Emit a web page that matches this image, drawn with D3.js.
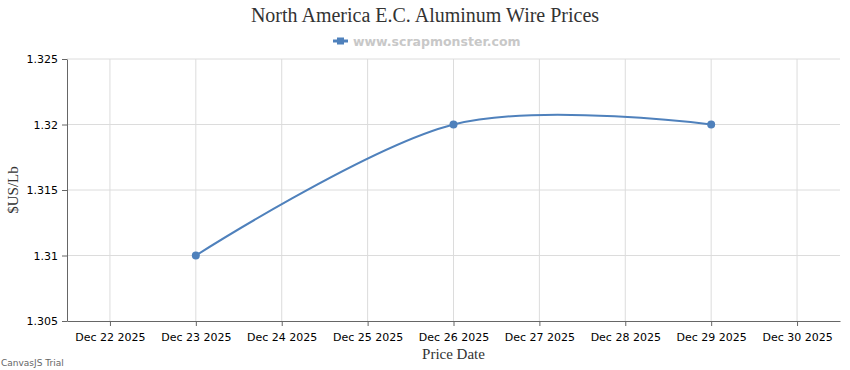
<!DOCTYPE html>
<html>

<head>
    <meta charset="UTF-8">
    <style>
        body { margin: 0; background: #fff; }
    </style>
</head>

<body>
    <svg></svg>
    <script src="https://d3js.org/d3.v7.min.js"></script>

    <script>
        const w = 850;
        const h = 370;
        const margin = { top: 59, bottom: 49, left: 67, right: 10 };

        // data
        const dates = ["2025-12-23", "2025-12-26", "2025-12-29"];
        const prices = [1.31, 1.32, 1.32];
        const tickDates = ["2025-12-22", "2025-12-23", "2025-12-24", "2025-12-25", "2025-12-26",
            "2025-12-27", "2025-12-28", "2025-12-29", "2025-12-30"];
        const yTicks = [1.305, 1.31, 1.315, 1.32, 1.325];

        const parse = d3.timeParse("%Y-%m-%d");
        const points = dates.map((d, i) => ({ date: parse(d), value: prices[i] }));

        const svg = d3.select("svg")
            .attr("width", w)
            .attr("height", h);

        const x = d3.scaleTime()
            .domain([d3.timeHour.offset(parse("2025-12-22"), -12), d3.timeHour.offset(parse("2025-12-30"), 12)])
            .range([margin.left, w - margin.right]);

        const y = d3.scaleLinear()
            .domain([1.305, 1.325])
            .range([h - margin.bottom, margin.top]);

        // gridlines
        svg.append("g")
            .selectAll("line")
            .data(yTicks.slice(1))
            .join("line")
            .attr("x1", margin.left)
            .attr("x2", w - margin.right)
            .attr("y1", d => y(d))
            .attr("y2", d => y(d))
            .attr("stroke", "#dcdcdc");

        svg.append("g")
            .selectAll("line")
            .data(tickDates.map(parse))
            .join("line")
            .attr("x1", d => x(d))
            .attr("x2", d => x(d))
            .attr("y1", margin.top)
            .attr("y2", h - margin.bottom)
            .attr("stroke", "#dcdcdc");

        // axes
        const xAxis = d3.axisBottom(x)
            .tickValues(tickDates.map(parse))
            .tickFormat(d3.timeFormat("%b %d %Y"))
            .tickSize(5)
            .tickSizeOuter(0)
            .tickPadding(5);

        const yAxis = d3.axisLeft(y)
            .tickValues(yTicks)
            .tickFormat(d => d3.format("")(+d.toFixed(3)))
            .tickSize(5)
            .tickSizeOuter(0)
            .tickPadding(4);

        const gx = svg.append("g")
            .attr("transform", "translate(0," + (h - margin.bottom) + ")")
            .call(xAxis);
        const gy = svg.append("g")
            .attr("transform", "translate(" + margin.left + ",0)")
            .call(yAxis);

        [gx, gy].forEach(g => {
            g.select(".domain").attr("stroke", "#666");
            g.selectAll(".tick line").attr("stroke", "#666");
            g.selectAll(".tick text")
                .attr("fill", "#000")
                .style("font-family", "'DejaVu Sans', sans-serif")
                .style("font-size", "11px");
        });
        gx.selectAll(".tick text").attr("dy", "0.9em");

        // line
        const line = d3.line()
            .x(d => x(d.date))
            .y(d => y(d.value))
            .curve(d3.curveCardinal.tension(0));

        svg.append("path")
            .datum(points)
            .attr("d", line)
            .attr("fill", "none")
            .attr("stroke", "#4F81BC")
            .attr("stroke-width", 2);

        svg.append("g")
            .selectAll("circle")
            .data(points)
            .join("circle")
            .attr("cx", d => x(d.date))
            .attr("cy", d => y(d.value))
            .attr("r", 4)
            .attr("fill", "#4F81BC");

        // title
        svg.append("text")
            .attr("x", 425)
            .attr("y", 22)
            .attr("text-anchor", "middle")
            .style("font-family", "'Liberation Serif', serif")
            .style("font-size", "20px")
            .attr("fill", "#333")
            .text("North America E.C. Aluminum Wire Prices");

        // legend
        const lg = svg.append("g").attr("transform", "translate(333,41)");
        lg.append("line")
            .attr("x1", 0).attr("x2", 15).attr("y1", 0).attr("y2", 0)
            .attr("stroke", "#4F81BC").attr("stroke-width", 3);
        lg.append("rect")
            .attr("x", 4).attr("y", -3.5).attr("width", 7).attr("height", 7)
            .attr("fill", "#4F81BC");
        lg.append("text")
            .attr("x", 20)
            .attr("y", 4.5)
            .style("font-family", "'DejaVu Sans', sans-serif")
            .style("font-size", "12.5px")
            .style("font-weight", "bold")
            .attr("fill", "#c8c8c8")
            .text("www.scrapmonster.com");

        // axis titles
        svg.append("text")
            .attr("transform", "translate(18," + y(1.315) + ") rotate(-90)")
            .attr("text-anchor", "middle")
            .style("font-family", "'Liberation Serif', serif")
            .style("font-size", "15px")
            .attr("fill", "#333")
            .text("$US/Lb");

        svg.append("text")
            .attr("x", x(parse("2025-12-26")))
            .attr("y", 359)
            .attr("text-anchor", "middle")
            .style("font-family", "'Liberation Serif', serif")
            .style("font-size", "15px")
            .attr("fill", "#333")
            .text("Price Date");

        svg.append("text")
            .attr("x", 1)
            .attr("y", 366)
            .style("font-family", "'DejaVu Sans', sans-serif")
            .style("font-size", "9px")
            .attr("fill", "#666")
            .text("CanvasJS Trial");
    </script>

</body>

</html>
